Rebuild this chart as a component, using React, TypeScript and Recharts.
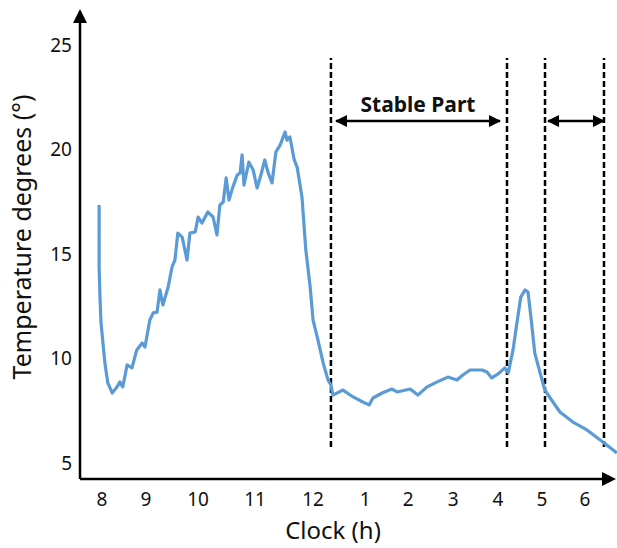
import React from 'react';
import { LineChart, Line, XAxis, YAxis, ReferenceLine } from 'recharts';

// Clock positions are stored as "hour-equivalent" positions (axis is not evenly spaced)
const CLOCK_POS = [
  7.94, 7.94, 7.96, 7.98, 8.06, 8.12, 8.21, 8.31, 8.37, 8.43, 8.52, 8.62, 8.72, 8.83, 8.89, 8.99,
  9.06, 9.14, 9.2, 9.26, 9.37, 9.45, 9.51, 9.57, 9.66, 9.76, 9.82, 9.93, 9.99, 10.07, 10.19, 10.3,
  10.38, 10.44, 10.51, 10.57, 10.63, 10.71, 10.8, 10.86, 10.9, 10.94, 11.04, 11.13, 11.21, 11.29,
  11.37, 11.44, 11.52, 11.6, 11.69, 11.79, 11.83, 11.89, 11.98, 12.04, 12.14, 12.22, 12.31, 12.37,
  12.47, 12.58, 12.68, 12.74, 12.78, 12.99, 13.2, 13.4, 13.53, 13.61, 13.8, 14.0, 14.11, 14.38,
  14.54, 14.73, 14.94, 15.16, 15.35, 15.47, 15.62, 15.87, 15.97, 16.07, 16.2, 16.34, 16.41, 16.51,
  16.59, 16.67, 16.76, 16.82, 16.88, 16.96, 17.07, 17.17, 17.28, 17.48, 17.75, 18.04, 18.37, 18.66,
];

const TEMPERATURE = [
  17.34, 14.38, 12.8, 11.7, 9.78, 8.83, 8.35, 8.64, 8.88, 8.64, 9.69, 9.55, 10.41, 10.74, 10.55, 11.84,
  12.18, 12.22, 13.28, 12.56, 13.42, 14.38, 14.71, 16.0, 15.81, 14.71, 16.0, 16.05, 16.77, 16.48, 17.01, 16.77,
  15.91, 17.34, 17.49, 18.64, 17.58, 18.21, 18.78, 18.88, 19.74, 18.3, 19.4, 19.02, 18.16, 18.78,
  19.5, 18.88, 18.4, 19.88, 20.22, 20.84, 20.45, 20.6, 19.5, 19.16, 17.73, 15.19, 13.42, 11.84,
  10.89, 9.78, 8.97, 8.73, 8.25, 8.49, 8.16, 7.92, 7.78, 8.11, 8.35, 8.54, 8.4, 8.54,
  8.25, 8.64, 8.88, 9.11, 8.97, 9.21, 9.45, 9.45, 9.35, 9.07, 9.26, 9.55, 9.31, 10.41,
  11.7, 12.94, 13.28, 13.18, 11.99, 10.26, 9.31, 8.49, 8.11, 7.44, 6.96, 6.58, 6.0, 5.48,
];

const TICK_POS = [8.0, 8.91, 9.99, 11.17, 12.37, 13.45, 14.34, 15.27, 16.2, 17.11, 18.0];
const TICK_LABELS = ['8', '9', '10', '11', '12', '1', '2', '3', '4', '5', '6'];
const Y_TICKS = [5, 10, 15, 20, 25];

// dashed boundaries and the two arrow spans
const BOUNDARIES = [12.74, 16.385, 17.172, 18.393];
const STABLE_SPAN = [12.845, 16.24];
const SECOND_SPAN = [17.234, 18.393];

const X_DOMAIN: [number, number] = [7.5445, 18.6625];
const Y_DOMAIN: [number, number] = [4.2344, 26.818];

const data = CLOCK_POS.map((t, i) => ({ t, temp: TEMPERATURE[i] }));

const FONT = '"Noto Sans", "Open Sans", sans-serif';

const arrowLine = (start: boolean, width: number) => (p: any) => (
  <line
    x1={p.x1}
    y1={p.y1}
    x2={p.x2}
    y2={p.y2}
    stroke="#000"
    strokeWidth={width}
    markerStart={start ? 'url(#headStart)' : undefined}
    markerEnd={start ? 'url(#headEnd)' : 'url(#axisHead)'}
  />
);

export default function App() {
  return (
    <div style={{ position: 'absolute', left: 0, top: 0, width: 617, height: 548, background: '#fff' }}>
      <LineChart
        width={617}
        height={548}
        data={data}
        margin={{ top: 7, right: 0, bottom: 0, left: 0 }}
        style={{ fontFamily: FONT }}
      >
        <defs>
          <marker id="axisHead" viewBox="0 0 14 14" markerWidth={14} markerHeight={14} refX={1} refY={7} orient="auto" markerUnits="userSpaceOnUse">
            <path d="M0,0 L14,7 L0,14 z" fill="#000" />
          </marker>
          <marker id="headEnd" viewBox="0 0 12 12" markerWidth={12} markerHeight={12} refX={11} refY={6} orient="auto" markerUnits="userSpaceOnUse">
            <path d="M0,0 L12,6 L0,12 z" fill="#000" />
          </marker>
          <marker id="headStart" viewBox="0 0 12 12" markerWidth={12} markerHeight={12} refX={11} refY={6} orient="auto-start-reverse" markerUnits="userSpaceOnUse">
            <path d="M0,0 L12,6 L0,12 z" fill="#000" />
          </marker>
        </defs>
        <XAxis
          dataKey="t"
          type="number"
          domain={X_DOMAIN}
          allowDataOverflow
          ticks={TICK_POS}
          interval={0}
          height={69}
          axisLine={false}
          tickLine={false}
          tickSize={0}
          tickMargin={14}
          tick={{ fontSize: 19, fill: '#111', fontFamily: FONT }}
          tickFormatter={(v: number) => TICK_LABELS[TICK_POS.findIndex((p) => Math.abs(p - v) < 0.001)] ?? ''}
        />
        <YAxis
          type="number"
          domain={Y_DOMAIN}
          allowDataOverflow
          ticks={Y_TICKS}
          interval={0}
          width={80}
          axisLine={false}
          tickLine={false}
          tickSize={0}
          tickMargin={8}
          tick={{ fontSize: 19, fill: '#111', fontFamily: FONT }}
        />

        {BOUNDARIES.map((x) => (
          <ReferenceLine
            key={x}
            ifOverflow="visible"
            segment={[{ x, y: 5.77 }, { x, y: 24.38 }]}
            stroke="#000"
            strokeWidth={2.5}
            strokeDasharray="6 3"
          />
        ))}

        <ReferenceLine
          ifOverflow="visible"
          segment={[{ x: STABLE_SPAN[0], y: 21.36 }, { x: STABLE_SPAN[1], y: 21.36 }]}
          shape={arrowLine(true, 2.5)}
          label={{ value: 'Stable Part', position: 'top', offset: 9, fontSize: 21, fontWeight: 700, fill: '#111', fontFamily: FONT }}
        />
        <ReferenceLine
          ifOverflow="visible"
          segment={[{ x: SECOND_SPAN[0], y: 21.36 }, { x: SECOND_SPAN[1], y: 21.36 }]}
          shape={arrowLine(true, 2.5)}
        />

        <Line
          type="linear"
          dataKey="temp"
          stroke="#5B9BD5"
          strokeWidth={3.2}
          strokeLinejoin="round"
          dot={false}
          isAnimationActive={false}
        />

        {/* axes drawn as lines with arrow heads */}
        <ReferenceLine
          ifOverflow="visible"
          segment={[{ x: X_DOMAIN[0], y: Y_DOMAIN[0] }, { x: 18.373, y: Y_DOMAIN[0] }]}
          shape={arrowLine(false, 2.5)}
        />
        <ReferenceLine
          ifOverflow="visible"
          segment={[{ x: X_DOMAIN[0], y: Y_DOMAIN[0] }, { x: X_DOMAIN[0], y: 26.1 }]}
          shape={arrowLine(false, 2.5)}
        />

        <text x={333} y={539} textAnchor="middle" fontSize={24} fill="#111" fontFamily={FONT}>
          Clock (h)
        </text>
        <text
          x={31}
          y={237}
          textAnchor="middle"
          fontSize={25}
          fill="#111"
          fontFamily={FONT}
          transform="rotate(-90, 31, 237)"
        >
          Temperature degrees (°)
        </text>
      </LineChart>
    </div>
  );
}
